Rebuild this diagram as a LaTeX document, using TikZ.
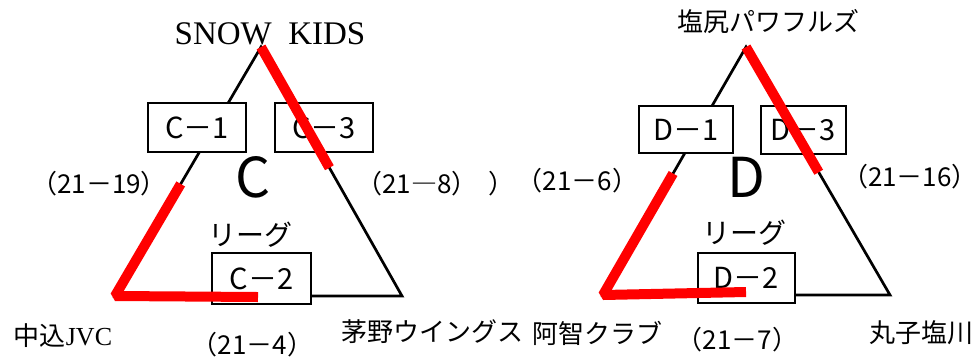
\documentclass[tikz,border=0pt]{standalone}
\usepackage{fontspec}
\newfontfamily\jp{Noto Sans CJK JP}
\newfontfamily\tser{Liberation Serif}
\usetikzlibrary{calc}
\begin{document}
\begin{tikzpicture}[x=1pt,y=-1pt,
  edge/.style={line width=2.7pt, line join=miter},
  win/.style={draw=red, line width=10pt, line join=bevel},
  lbox/.style={draw, line width=1.3pt, fill=white, inner sep=0pt, font=\jp\fontsize{29}{29}\selectfont},
  score/.style={font=\jp\fontsize{26}{26}\selectfont, inner sep=0pt},
  team/.style={font=\jp\fontsize{26}{26}\selectfont, inner sep=0pt},
  big/.style={font=\jp\fontsize{55}{55}\selectfont, inner sep=0pt},
  league/.style={font=\jp\fontsize{28}{28}\selectfont, inner sep=0pt},
]
\useasboundingbox (0,0) rectangle (979,360);
% ---------- triangle C ----------
\coordinate (A) at (261,47);
\coordinate (BL) at (115,296);
\coordinate (BR) at (402,296);
\draw[edge] (A) -- (BL) -- (BR) -- cycle;
\node[lbox, minimum width=98pt, minimum height=49pt] (c1) at (197,127.5) {C－1};
\node[lbox, minimum width=98pt, minimum height=49pt] (c3) at (324,127.5) {C－3};
\node[lbox, minimum width=99pt, minimum height=51pt] (c2) at (261.5,278.5) {C－2};
\coordinate (r1e) at ($(A)!0.485!(BR)$);
\coordinate (r2s) at ($(A)!0.55!(BL)$);
\coordinate (r2e) at (258,297);
\draw[win] (A) -- (r1e);
\draw[win] (r2s) -- (BL) -- (r2e);
\node[big] (bigC) at (253,177.5) {C};
\node[league] (lgC) at (250,235) {リーグ};
\node[team, font=\tser\fontsize{33}{33}\selectfont] (snow) at (270,34) {SNOW\ \ KIDS};
\node[team] (naka) at (63,336) {中込{\tser JVC}};
\node[team] (chino) at (432,332) {茅野ウイングス};
\node[score] (s1) at (99,184) {（21－19）};
\node[score] (s3) at (417,184) {（21―8）};
\node[score] (s3b) at (501,184) {）};
\node[score] (s2) at (252.5,345) {（21－4）};
% ---------- triangle D ----------
\coordinate (A2) at (746,47);
\coordinate (BL2) at (603,295);
\coordinate (BR2) at (890,295);
\draw[edge] (A2) -- (BL2) -- (BR2) -- cycle;
\node[lbox, minimum width=94pt, minimum height=47pt] (d1) at (686,129.5) {D－1};
\node[lbox, minimum width=85pt, minimum height=48pt] (d3) at (803.5,130) {D－3};
\node[lbox, minimum width=97pt, minimum height=50pt] (d2) at (746.5,278) {D－2};
\coordinate (r3e) at ($(A2)!0.505!(BR2)$);
\coordinate (r4s) at ($(A2)!0.51!(BL2)$);
\coordinate (r4e) at (746,292);
\draw[win] (A2) -- (r3e);
\draw[win] (r4s) -- (BL2) -- (r4e);
\node[big] (bigD) at (746.5,177.5) {D};
\node[league] (lgD) at (744,232.5) {リーグ};
\node[team] (shio) at (768,22) {塩尻パワフルズ};
\node[team] (achi) at (597,333) {阿智クラブ};
\node[team] (maru) at (921,333) {丸子塩川};
\node[score] (s4) at (577.5,181) {（21－6）};
\node[score, anchor=east] (s6) at (978,177) {（21－16）};
\node[score] (s5) at (737.5,340) {（21－7）};
\end{tikzpicture}
\end{document}
